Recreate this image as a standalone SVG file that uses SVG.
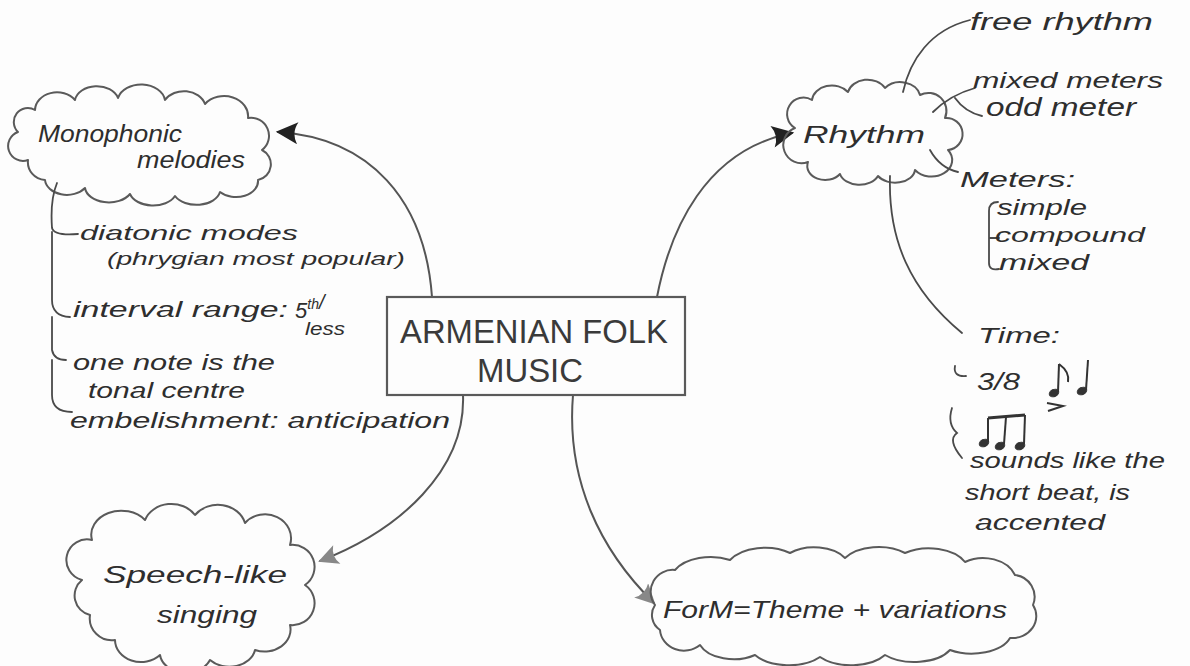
<svg xmlns="http://www.w3.org/2000/svg" width="1190" height="666" viewBox="0 0 1190 666">
<style>
.bg{fill:#fdfdfd}
.cloud{fill:none;stroke:#5a5a5a;stroke-width:2;stroke-linejoin:round}
.box{fill:none;stroke:#5a5a5a;stroke-width:2.2}
.conn{fill:none;stroke:#555;stroke-width:2;stroke-linecap:round}
.branch{fill:none;stroke:#4a4a4a;stroke-width:1.8;stroke-linecap:round}
.t{font-family:"Liberation Sans",Arial,sans-serif;font-style:italic;fill:#2e2e2e;font-size:22px}
.l{font-size:24px}
.big{font-size:34px;font-style:normal;fill:#3a3a3a}
.note{fill:#333;stroke:#333}
</style>
<defs>
<marker id="ahDark" viewBox="0 0 10 10" refX="9" refY="5" markerUnits="userSpaceOnUse" markerWidth="28" markerHeight="22" orient="auto">
<path d="M0,0 L10,5 L0,10 Q3,5 0,0 Z" fill="#222"/>
</marker>
<marker id="ahLight" viewBox="0 0 10 10" refX="9" refY="5" markerUnits="userSpaceOnUse" markerWidth="22" markerHeight="20" orient="auto">
<path d="M0,0 L10,5 L0,10 Q3,5 0,0 Z" fill="#888"/>
</marker>
</defs>
<rect class="bg" x="0" y="0" width="1190" height="666"/>

<g id="connectors">
<path class="conn" d="M432,297 C425,200 370,138 278,132" marker-end="url(#ahDark)"/>
<path class="conn" d="M657,297 C670,230 705,150 792,133" marker-end="url(#ahDark)"/>
<path class="conn" d="M463,395 C466,470 400,530 320,561" marker-end="url(#ahLight)"/>
<path class="conn" d="M573,395 C566,480 600,550 654,603" marker-end="url(#ahLight)"/>
</g>

<g id="center">
<rect class="box" x="387" y="297" width="298" height="98"/>
<text class="t big" x="400" y="343" textLength="268" lengthAdjust="spacingAndGlyphs">ARMENIAN FOLK</text>
<text class="t big" x="477" y="382" textLength="106" lengthAdjust="spacingAndGlyphs">MUSIC</text>
</g>

<g id="monophonic">
<path class="cloud" d="M18,132 A14 14 0 0 1 35,110 A22 18 0 0 1 75,100 A22 16 0 0 1 118,98 A24 18 0 0 1 165,100 A22 18 0 0 1 205,104 A24 20 0 0 1 248,118 A18 18 0 0 1 262,150 A16 16 0 0 1 258,180 A22 16 0 0 1 220,192 A24 16 0 0 1 175,196 A24 16 0 0 1 130,194 A24 16 0 0 1 85,188 A22 16 0 0 1 45,180 A18 18 0 0 1 28,160 A14 14 0 0 1 18,132 Z"/>
<text class="t l" x="38" y="142" textLength="144" lengthAdjust="spacingAndGlyphs">Monophonic</text>
<text class="t l" x="137" y="168" textLength="108" lengthAdjust="spacingAndGlyphs">melodies</text>
</g>

<g id="monophonic-details">
<path class="branch" d="M57,183 Q50,200 52,228 Q54,236 78,234 M52,232 L52,300 Q52,316 70,317 M52,317 L52,350 Q54,360 66,360 M52,360 L52,395 Q52,412 72,412"/>
<text class="t" x="80" y="240" style="font-size:21px" textLength="218" lengthAdjust="spacingAndGlyphs">diatonic modes</text>
<text class="t" x="107" y="265" style="font-size:18px" textLength="298" lengthAdjust="spacingAndGlyphs">(phrygian most popular)</text>
<text class="t" x="73" y="317" textLength="215" lengthAdjust="spacingAndGlyphs">interval range:</text>
<text class="t" x="295" y="318">5<tspan dy="-9" style="font-size:14px">th</tspan><tspan style="font-size:20px">/</tspan></text>
<text class="t" x="305" y="335" style="font-size:18px" textLength="40" lengthAdjust="spacingAndGlyphs">less</text>
<text class="t" x="73" y="370" textLength="202" lengthAdjust="spacingAndGlyphs">one note is the</text>
<text class="t" x="88" y="398" textLength="157" lengthAdjust="spacingAndGlyphs">tonal centre</text>
<text class="t" x="70" y="428" textLength="380" lengthAdjust="spacingAndGlyphs">embelishment: anticipation</text>
</g>

<g id="rhythm">
<path class="cloud" d="M795,128 A14 14 0 0 1 812,100 A20 16 0 0 1 848,92 A20 16 0 0 1 885,88 A20 16 0 0 1 920,95 A18 18 0 0 1 945,118 A16 16 0 0 1 948,150 A20 16 0 0 1 915,170 A20 14 0 0 1 878,176 A20 14 0 0 1 840,174 A18 14 0 0 1 808,162 A14 14 0 0 1 795,128 Z"/>
<text class="t l" x="803" y="143" textLength="122" lengthAdjust="spacingAndGlyphs">Rhythm</text>
</g>

<g id="rhythm-details">
<path class="branch" d="M903,92 C910,60 930,30 970,20 M933,112 Q950,95 975,88 M955,98 Q965,112 982,116 M930,150 Q940,168 958,172 M890,176 C888,240 910,290 962,333"/>
<text class="t l" x="970" y="30" textLength="183" lengthAdjust="spacingAndGlyphs">free rhythm</text>
<text class="t" x="973" y="88" textLength="190" lengthAdjust="spacingAndGlyphs">mixed meters</text>
<text class="t" x="986" y="116" style="font-size:25px" textLength="150" lengthAdjust="spacingAndGlyphs">odd meter</text>
<text class="t" x="960" y="187" textLength="115" lengthAdjust="spacingAndGlyphs">Meters:</text>
<path class="branch" d="M998,202 Q989,202 989,211 L989,263 Q989,271 999,269 M989,238 L999,238"/>
<text class="t" x="997" y="215" textLength="90" lengthAdjust="spacingAndGlyphs">simple</text>
<text class="t" x="995" y="242" style="font-size:21px" textLength="150" lengthAdjust="spacingAndGlyphs">compound</text>
<text class="t" x="999" y="270" textLength="90" lengthAdjust="spacingAndGlyphs">mixed</text>
<text class="t" x="978" y="343" textLength="82" lengthAdjust="spacingAndGlyphs">Time:</text>
<path class="branch" d="M955,366 Q953,377 966,376"/>
<text class="t l" x="977" y="390" textLength="43" lengthAdjust="spacingAndGlyphs">3/8</text>
<g class="note">
<ellipse cx="1054" cy="393" rx="5" ry="3.5" transform="rotate(-25 1054 393)"/>
<line x1="1058" y1="392" x2="1059" y2="364" stroke-width="2"/>
<path d="M1059,364 Q1070,372 1068,382" fill="none" stroke-width="2"/>
<ellipse cx="1082" cy="391" rx="5" ry="3.5" transform="rotate(-25 1082 391)"/>
<line x1="1086" y1="390" x2="1088" y2="360" stroke-width="2"/>
<path d="M1047,403 L1063,406 L1048,411" fill="none" stroke-width="2"/>
</g>
<path class="branch" d="M952,408 Q947,424 957,433 Q947,440 962,458"/>
<g class="note">
<line x1="988" y1="418" x2="1025" y2="415" stroke-width="3"/>
<line x1="988" y1="418" x2="988" y2="442" stroke-width="2"/>
<line x1="1006" y1="417" x2="1004" y2="444" stroke-width="2"/>
<line x1="1025" y1="415" x2="1024" y2="444" stroke-width="2"/>
<ellipse cx="984" cy="443" rx="5" ry="3.5" transform="rotate(-25 984 443)"/>
<ellipse cx="1000" cy="446" rx="5" ry="3.5" transform="rotate(-25 1000 446)"/>
<ellipse cx="1020" cy="446" rx="5" ry="3.5" transform="rotate(-25 1020 446)"/>
</g>
<text class="t" x="970" y="468" textLength="195" lengthAdjust="spacingAndGlyphs">sounds like the</text>
<text class="t" x="965" y="500" textLength="165" lengthAdjust="spacingAndGlyphs">short beat, is</text>
<text class="t" x="975" y="530" textLength="130" lengthAdjust="spacingAndGlyphs">accented</text>
</g>

<g id="speech">
<path class="cloud" d="M82,580 A20 20 0 0 1 92,540 A30 24 0 0 1 145,520 A28 24 0 0 1 195,515 A28 24 0 0 1 245,523 A26 24 0 0 1 290,545 A22 22 0 0 1 305,585 A22 22 0 0 1 290,625 A26 22 0 0 1 255,650 A26 20 0 0 1 210,660 A26 20 0 0 1 160,655 A26 22 0 0 1 115,640 A22 22 0 0 1 90,615 A20 20 0 0 1 82,580 Z"/>
<text class="t l" x="103" y="583" textLength="184" lengthAdjust="spacingAndGlyphs">Speech-like</text>
<text class="t l" x="157" y="623" textLength="100" lengthAdjust="spacingAndGlyphs">singing</text>
</g>

<g id="form">
<path class="cloud" d="M655,605 A22 22 0 0 1 675,570 A40 24 0 0 1 730,560 A40 24 0 0 1 790,553 A36 22 0 0 1 845,558 A40 24 0 0 1 905,553 A40 24 0 0 1 965,562 A34 26 0 0 1 1015,575 A22 22 0 0 1 1033,605 A24 22 0 0 1 1010,638 A40 22 0 0 1 950,650 A40 22 0 0 1 885,655 A40 22 0 0 1 820,657 A40 22 0 0 1 755,655 A36 22 0 0 1 700,645 A24 22 0 0 1 660,630 A18 18 0 0 1 655,605 Z"/>
<text class="t l" x="663" y="618" textLength="344" lengthAdjust="spacingAndGlyphs">ForM=Theme + variations</text>
</g>
</svg>
